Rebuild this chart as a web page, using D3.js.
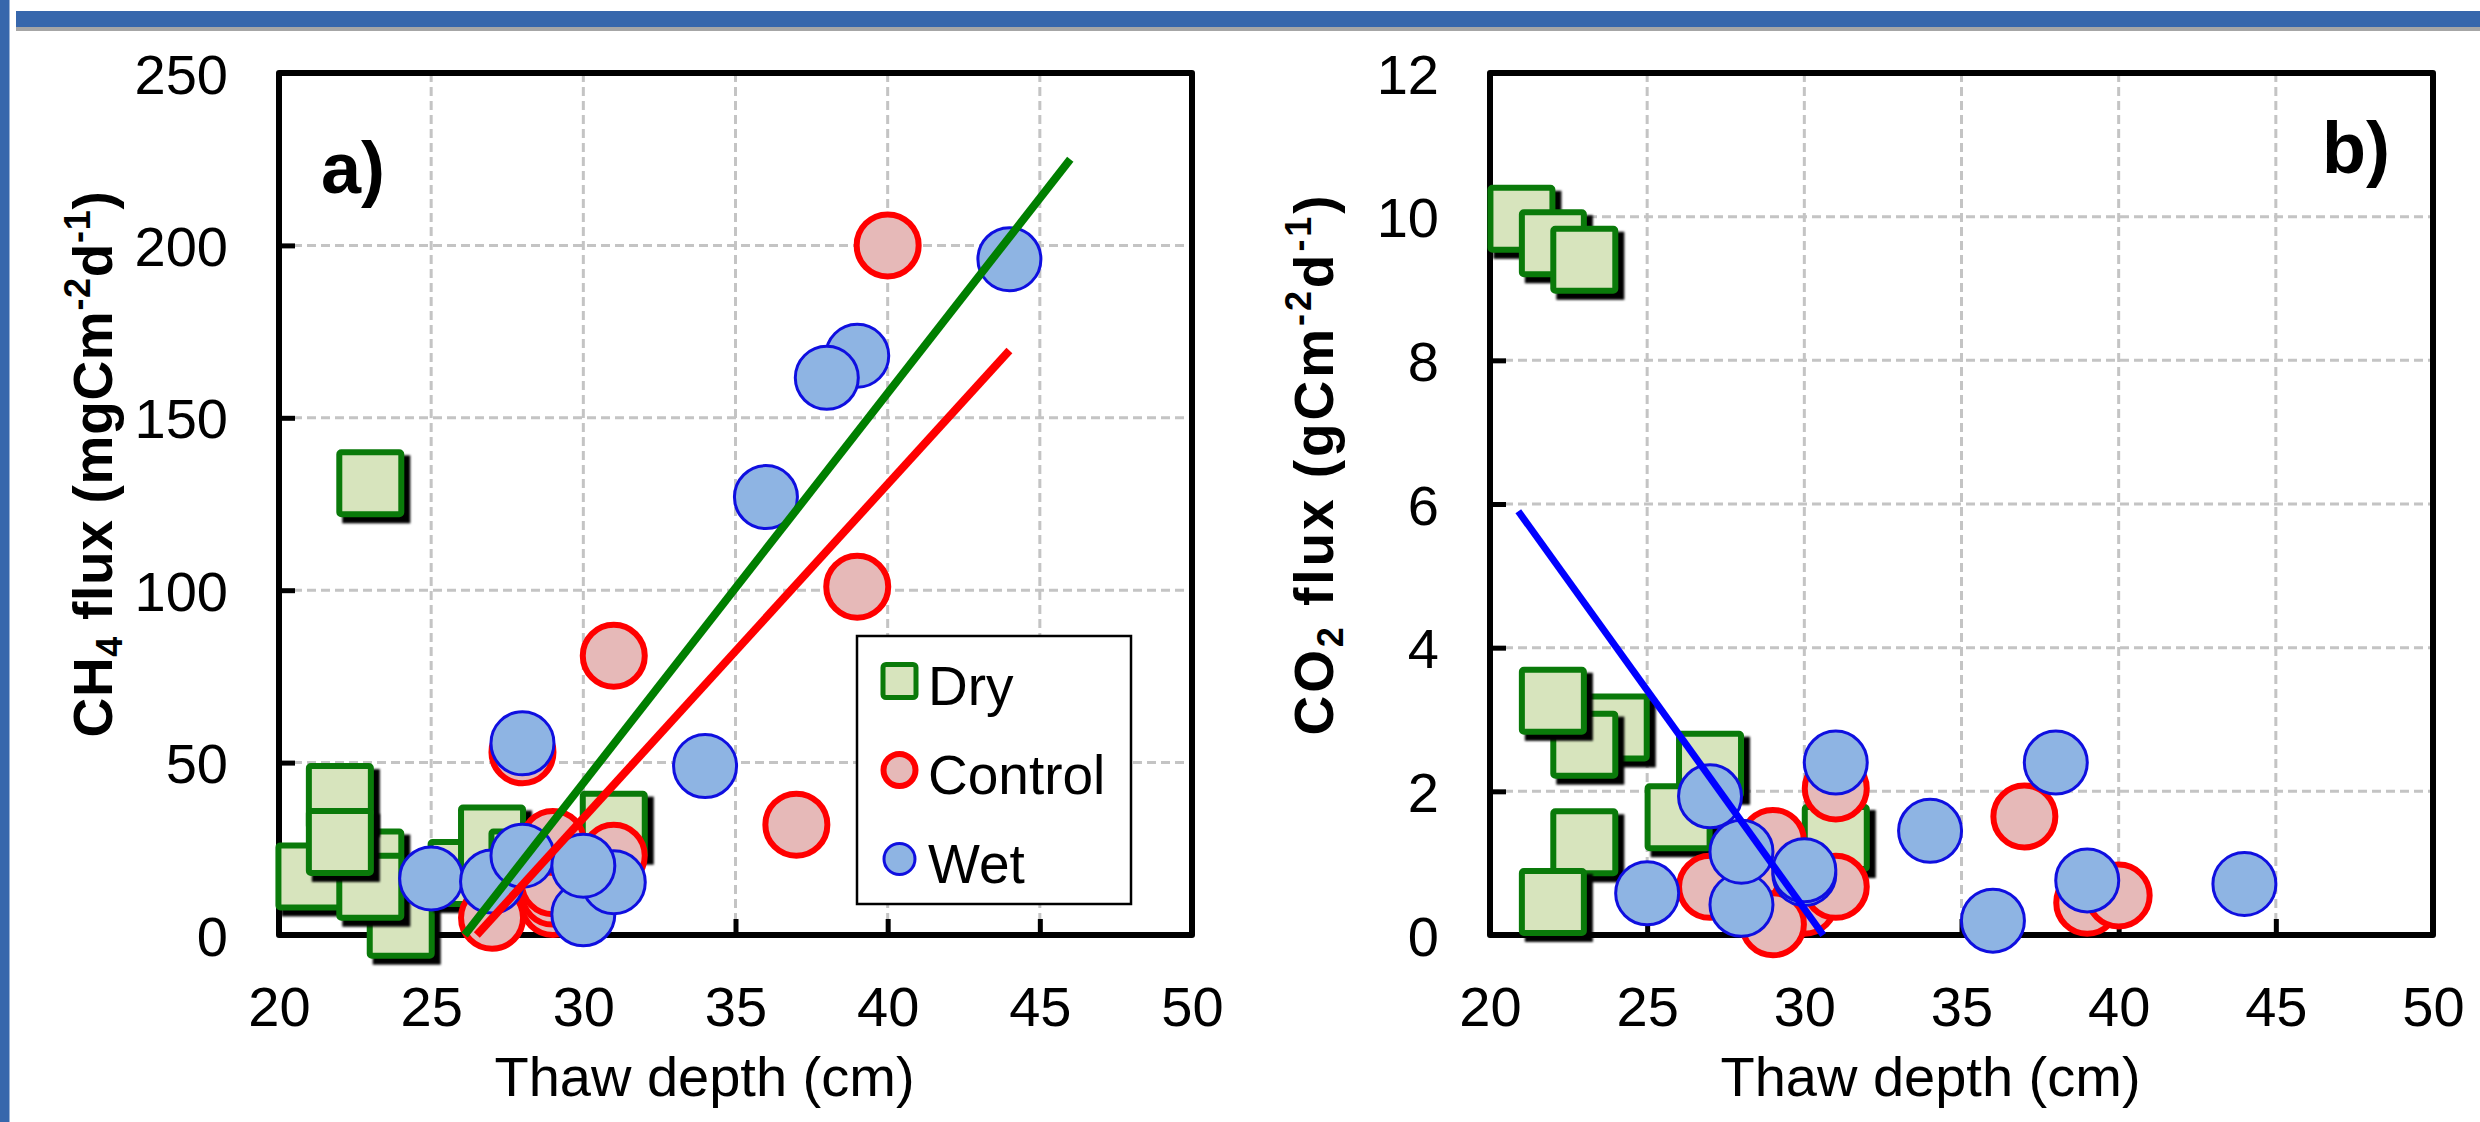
<!DOCTYPE html>
<html>
<head>
<meta charset="utf-8">
<script src="https://cdn.jsdelivr.net/npm/d3@7"></script>
<style>
  body { margin: 0; background: #fff; }
  svg { display: block; font-family: "Liberation Sans", Arial, sans-serif; }
</style>
</head>
<body>
<svg id="chart" width="2480" height="1122"></svg>
<script>
// ---- data ----
var depthTicks = [20, 25, 30, 35, 40, 45, 50];
var ch4Ticks = [0, 50, 100, 150, 200, 250];
var co2Ticks = [0, 2, 4, 6, 8, 10, 12];

// [thaw depth (cm), flux]
var ch4Dry = [[24,3],[23,21],[21,17],[23,14],[22,40],[22,27],[26,18],[27,28],[28,21],[31,32],[23,131]];
var ch4Control = [[40,200],[39,101],[31,81],[37,32],[28,53],[29,9],[29,12],[29,15],[29,27],[31,23],[27,5]];
var ch4Wet = [[44,196],[39,168],[38,161.6],[36,127],[34,49],[28,55.6],[25,16.4],[27,15.5],[28,23],[30,6],[31,15.3],[30,20.1]];

var co2Dry = [[21,9.97],[22,9.63],[23,9.4],[24,2.89],[23,2.65],[22,3.26],[27,2.37],[26,1.64],[23,1.29],[22,0.46],[31,1.35]];
var co2Control = [[37,1.65],[31,2.04],[39,0.45],[40,0.55],[27,0.67],[29,1.31],[29,0.55],[30,0.45],[29,0.15],[31,0.67]];
var co2Wet = [[44,0.71],[38,2.4],[39,0.76],[36,0.2],[34,1.45],[31,2.4],[25,0.58],[28,0.42],[27,1.93],[28,1.16],[30,0.85],[30,0.9]];

// regression lines
var ch4DryFit = [[26.1,0],[46,225]];
var ch4ControlFit = [[26.5,0],[44,169.5]];
var co2WetFit = [[20.9,5.9],[30.6,0]];

var legendItems = ["Dry", "Control", "Wet"];

var svg = d3.select("#chart");

// page decoration (slide header bar)
svg.append("rect").attr("x", 0).attr("y", 0).attr("width", 9.5).attr("height", 1122).attr("fill", "#3767ac");
svg.append("rect").attr("x", 16).attr("y", 11).attr("width", 2464).attr("height", 16).attr("fill", "#3767ac");
svg.append("rect").attr("x", 16).attr("y", 27).attr("width", 2464).attr("height", 4).attr("fill", "#a6a6a6");

var defs = svg.append("defs");
defs.append("filter").attr("id", "soft").append("feGaussianBlur").attr("stdDeviation", 1.2);

var TOP = 73, BOTTOM = 935;
var FONT = "'Liberation Sans', Arial, sans-serif";

function drawPanel(opt) {
  var x = d3.scaleLinear().domain([20, 50]).range([opt.left, opt.right]);
  var y = d3.scaleLinear().domain([opt.yTicks[0], opt.yTicks[opt.yTicks.length - 1]]).range([BOTTOM, TOP]);
  var g = svg.append("g");

  // grid
  g.append("g").selectAll("line").data(depthTicks.slice(1, -1)).join("line")
    .attr("x1", function (d) { return x(d); }).attr("x2", function (d) { return x(d); })
    .attr("y1", TOP).attr("y2", BOTTOM)
    .attr("stroke", "#c4c4c4").attr("stroke-width", 3).attr("stroke-dasharray", "9,5");
  g.append("g").selectAll("line").data(opt.yTicks.slice(1, -1)).join("line")
    .attr("x1", opt.left).attr("x2", opt.right)
    .attr("y1", function (d) { return y(d); }).attr("y2", function (d) { return y(d); })
    .attr("stroke", "#c4c4c4").attr("stroke-width", 3).attr("stroke-dasharray", "9,5");

  // axes
  var xa = g.append("g").attr("transform", "translate(0," + BOTTOM + ")")
    .call(d3.axisBottom(x).tickValues(depthTicks).tickSizeInner(-16).tickSizeOuter(0).tickPadding(51));
  var ya = g.append("g").attr("transform", "translate(" + opt.left + ",0)")
    .call(d3.axisLeft(y).tickValues(opt.yTicks).tickSizeInner(-16).tickSizeOuter(0).tickPadding(51));
  [xa, ya].forEach(function (a) {
    a.select(".domain").remove();
    a.attr("font-size", 56).attr("font-family", FONT);
    a.selectAll(".tick line").attr("stroke", "#000").attr("stroke-width", 5);
    a.selectAll(".tick text").attr("fill", "#000");
  });
  ya.selectAll(".tick text").attr("dy", "0.36em");

  // frame
  g.append("rect").attr("x", opt.left).attr("y", TOP)
    .attr("width", opt.right - opt.left).attr("height", BOTTOM - TOP)
    .attr("fill", "none").attr("stroke", "#000").attr("stroke-width", 6).attr("stroke-linejoin", "round");

  // Dry squares with shadow
  var sq = g.append("g").selectAll("g").data(opt.dry).join("g")
    .attr("transform", function (d) { return "translate(" + x(d[0]) + "," + y(d[1]) + ")"; });
  sq.append("rect").attr("x", -25).attr("y", -25).attr("width", 62).attr("height", 62)
    .attr("fill", "#000").attr("stroke", "#000").attr("stroke-width", 6).attr("filter", "url(#soft)");
  sq.append("rect").attr("x", -31).attr("y", -31).attr("width", 62).attr("height", 62).attr("rx", 2)
    .attr("fill", "#d7e4bd").attr("stroke", "#0a7a0a").attr("stroke-width", 6);

  // Control
  g.append("g").selectAll("circle").data(opt.control).join("circle")
    .attr("cx", function (d) { return x(d[0]); }).attr("cy", function (d) { return y(d[1]); })
    .attr("r", 31).attr("fill", "#e6b9b8").attr("stroke", "#ff0000").attr("stroke-width", 6);

  // Wet
  g.append("g").selectAll("circle").data(opt.wet).join("circle")
    .attr("cx", function (d) { return x(d[0]); }).attr("cy", function (d) { return y(d[1]); })
    .attr("r", 31.5).attr("fill", "#8eb4e3").attr("stroke", "#0f0fe0").attr("stroke-width", 3);

  // fit lines
  var line = d3.line().x(function (d) { return x(d[0]); }).y(function (d) { return y(d[1]); });
  opt.fits.forEach(function (f) {
    g.append("path").attr("d", line(f.data)).attr("fill", "none")
      .attr("stroke", f.color).attr("stroke-width", f.width);
  });

  // panel letter
  g.append("text").attr("x", opt.letterX).attr("y", opt.letterY)
    .attr("font-size", 72).attr("font-weight", "bold").attr("font-family", FONT)
    .text(opt.letter);

  // x title
  g.append("text").attr("x", (opt.left + opt.right) / 2 - 31).attr("y", 1096)
    .attr("text-anchor", "middle").attr("font-size", 56).attr("font-family", FONT)
    .text("Thaw depth (cm)");

  // y title
  var yt = g.append("text").attr("text-anchor", "middle")
    .attr("transform", "translate(" + opt.titleX + ",464) rotate(-90)")
    .attr("font-size", 55).attr("font-weight", "bold").attr("font-family", FONT);
  opt.title.forEach(function (p) {
    var t = yt.append("tspan").text(p.t);
    if (p.sub) t.attr("font-size", 36).attr("dy", 10);
    if (p.sup) t.attr("font-size", 36).attr("dy", -22);
    if (p.back) t.attr("dy", p.back);
  });
  var w = yt.node().getBBox().width;
  var n = opt.title.map(function (p) { return p.t; }).join("").length;
  yt.attr("letter-spacing", ((opt.titleLen - w) / n).toFixed(2));

  return { g: g, x: x, y: y };
}

var left = drawPanel({
  left: 279, right: 1192, yTicks: ch4Ticks,
  dry: ch4Dry, control: ch4Control, wet: ch4Wet,
  fits: [{ data: ch4DryFit, color: "#007f00", width: 8 }, { data: ch4ControlFit, color: "#ff0000", width: 8 }],
  letter: "a)", letterX: 321, letterY: 193,
  titleX: 112, titleLen: 547,
  title: [{ t: "CH" }, { t: "4", sub: true }, { t: " flux (mgCm", back: -10 },
          { t: "-2", sup: true }, { t: "d", back: 22 }, { t: "-1", sup: true }, { t: ")", back: 22 }]
});

drawPanel({
  left: 1490, right: 2433, yTicks: co2Ticks,
  dry: co2Dry, control: co2Control, wet: co2Wet,
  fits: [{ data: co2WetFit, color: "#0000ff", width: 7 }],
  letter: "b)", letterX: 2322, letterY: 173,
  titleX: 1333, titleLen: 543,
  title: [{ t: "CO" }, { t: "2", sub: true }, { t: " flux (gCm", back: -10 },
          { t: "-2", sup: true }, { t: "d", back: 22 }, { t: "-1", sup: true }, { t: ")", back: 22 }]
});

// legend (panel a)
var lg = left.g.append("g");
lg.append("rect").attr("x", 857).attr("y", 636).attr("width", 274).attr("height", 268)
  .attr("fill", "#fff").attr("stroke", "#000").attr("stroke-width", 2.5);
var item = lg.selectAll("g.item").data(legendItems).join("g").attr("class", "item")
  .attr("transform", function (d, i) { return "translate(899.5," + (681 + i * 89) + ")"; });
item.filter(function (d) { return d === "Dry"; }).append("rect")
  .attr("x", -16.5).attr("y", -16.5).attr("width", 33).attr("height", 33).attr("rx", 3)
  .attr("fill", "#d7e4bd").attr("stroke", "#0a7a0a").attr("stroke-width", 5);
item.filter(function (d) { return d === "Control"; }).append("circle")
  .attr("r", 16).attr("fill", "#e6b9b8").attr("stroke", "#ff0000").attr("stroke-width", 6);
item.filter(function (d) { return d === "Wet"; }).append("circle")
  .attr("r", 15.5).attr("fill", "#8eb4e3").attr("stroke", "#0f0fe0").attr("stroke-width", 3);
item.append("text").attr("x", 28.5).attr("y", 24)
  .attr("font-size", 55).attr("font-family", FONT).text(function (d) { return d; });
</script>
</body>
</html>
